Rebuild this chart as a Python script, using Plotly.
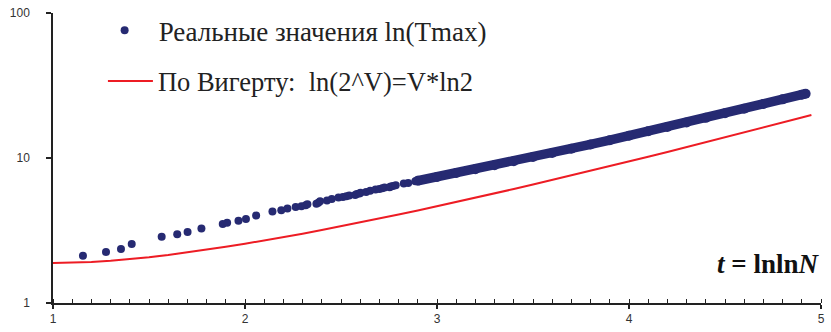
import plotly.graph_objects as go

# --- data ---
# individual dots (t = lnlnN, value = ln(Tmax))
dots_t = [1.156, 1.276, 1.354, 1.410, 1.566, 1.647, 1.701, 1.773, 1.884, 1.907,
          1.966, 2.005, 2.058, 2.143, 2.189, 2.221, 2.264, 2.294, 2.316, 2.325,
          2.372, 2.382, 2.391, 2.427, 2.452, 2.487, 2.510, 2.528, 2.543, 2.574,
          2.582, 2.596, 2.602, 2.631, 2.652, 2.680, 2.700, 2.715, 2.727, 2.753,
          2.759, 2.771, 2.785, 2.827, 2.850, 2.887]
dots_v = [2.12, 2.245, 2.36, 2.55, 2.86, 2.98, 3.09, 3.27, 3.50, 3.57,
          3.69, 3.80, 4.01, 4.28, 4.37, 4.49, 4.60, 4.65, 4.73, 4.79,
          4.84, 4.92, 5.03, 5.10, 5.22, 5.33, 5.38, 5.45, 5.52, 5.56,
          5.64, 5.68, 5.76, 5.82, 5.95, 6.06, 6.11, 6.18, 6.25, 6.29,
          6.37, 6.41, 6.48, 6.67, 6.72, 6.91]
# dense band of dots (continuous)
band_t = [2.9, 3.0, 3.1, 3.2, 3.3, 3.4, 3.5, 3.6, 3.7, 3.8, 3.9, 4.0,
          4.1, 4.2, 4.3, 4.4, 4.5, 4.6, 4.7, 4.8, 4.9, 4.92]
band_v = [6.97, 7.40, 7.87, 8.37, 8.92, 9.51, 10.15, 10.84, 11.59, 12.41, 13.28, 14.23,
          15.28, 16.39, 17.60, 18.92, 20.35, 21.89, 23.57, 25.38, 27.35, 27.77]
# Wigert line ln(2^V) = V*ln2
red_t = [1.0, 1.1, 1.2, 1.3, 1.4, 1.5, 1.6, 1.7, 1.8, 1.9, 2.0, 2.1, 2.2, 2.3, 2.4,
         2.5, 2.6, 2.7, 2.8, 2.9, 3.0, 3.1, 3.2, 3.3, 3.4, 3.5, 3.6, 3.7, 3.8, 3.9,
         4.0, 4.1, 4.2, 4.3, 4.4, 4.5, 4.6, 4.7, 4.8, 4.9, 4.95]
red_v = [1.884, 1.893, 1.918, 1.956, 2.008, 2.071, 2.146, 2.232, 2.330, 2.439, 2.561,
         2.695, 2.843, 3.006, 3.184, 3.378, 3.589, 3.820, 4.071, 4.344, 4.641, 4.963,
         5.314, 5.695, 6.109, 6.558, 7.047, 7.577, 8.154, 8.780, 9.461, 10.201, 11.006,
         11.880, 12.831, 13.866, 14.991, 16.215, 17.547, 18.996, 19.77]

x_ticks = [1, 2, 3, 4, 5]
y_ticks = [1, 10, 100]

NAVY = "#262a72"
RED = "#ed1c24"
SERIF = "Liberation Serif"
SANS = "Liberation Sans"

fig = go.Figure()
fig.add_trace(go.Scatter(
    x=band_t, y=band_v, mode="lines+markers",
    line=dict(color=NAVY, width=9.5), marker=dict(color=NAVY, size=10),
    showlegend=False, hoverinfo="skip"))
fig.add_trace(go.Scatter(
    x=dots_t, y=dots_v, mode="markers",
    marker=dict(color=NAVY, size=8),
    name="Реальные значения ln(Tmax)", legend="legend"))
fig.add_trace(go.Scatter(
    x=red_t, y=red_v, mode="lines",
    line=dict(color=RED, width=2),
    name="По Вигерту:  ln(2^V)=V*ln2", legend="legend2"))

fig.update_layout(
    width=831, height=332,
    margin=dict(l=53, r=6, t=11, b=28),
    font=dict(family=SERIF, color="#222"),
    plot_bgcolor="white", paper_bgcolor="white",
    legend=dict(x=0.049, y=0.939, xanchor="left", yanchor="middle",
                font=dict(family=SERIF, size=27, color="#222"),
                itemwidth=58, bgcolor="rgba(0,0,0,0)"),
    legend2=dict(x=0.065, y=0.765, xanchor="left", yanchor="middle",
                 font=dict(family=SERIF, size=26.5, color="#222"),
                 itemwidth=45, bgcolor="rgba(0,0,0,0)"),
    annotations=[dict(
        text="<b><i>t</i> = lnln<i>N</i></b>", xref="paper", yref="paper",
        x=1.0, y=0.135, xanchor="right", yanchor="middle", showarrow=False,
        font=dict(family=SERIF, size=27, color="#111"))],
)
fig.update_xaxes(
    range=[1, 5], tickvals=x_ticks, ticktext=[str(v) for v in x_ticks],
    showgrid=False, zeroline=False, showline=True, linecolor="#222", linewidth=1.5,
    ticks="outside", ticklen=4, tickcolor="#222", tickwidth=1.5,
    tickfont=dict(family=SANS, size=12, color="#333"),
    minor=dict(dtick=0.1, ticks="inside", ticklen=4, tickcolor="#222", tickwidth=1, showgrid=False))
fig.update_yaxes(
    type="log", range=[0, 2], tickvals=y_ticks, ticktext=[str(v) for v in y_ticks],
    showgrid=False, zeroline=False, showline=True, linecolor="#222", linewidth=1.5,
    ticks="outside", ticklen=5, tickcolor="#222", tickwidth=1.5,
    tickfont=dict(family=SANS, size=12, color="#333"), ticklabelstandoff=14)

fig.write_html("out.html", config={"displayModeBar": False})
with open("out.html", "r", encoding="utf-8") as f:
    html = f.read()
html = html.replace("<head>", "<head><style>html,body{margin:0;padding:0;overflow:hidden}</style>", 1)
with open("out.html", "w", encoding="utf-8") as f:
    f.write(html)
